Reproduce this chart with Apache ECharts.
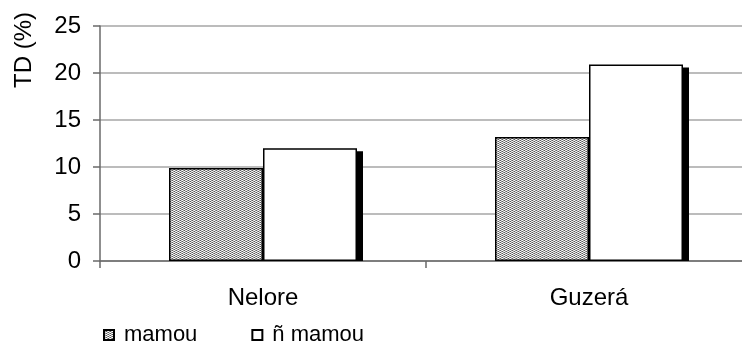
<!DOCTYPE html>
<html>
<head>
<meta charset="utf-8">
<script src="https://cdn.jsdelivr.net/npm/echarts@6/dist/echarts.min.js"></script>
<style>
  html, body { margin: 0; padding: 0; background: #fff; }
  #chart { width: 742px; height: 343px; }
</style>
</head>
<body>
<div id="chart"></div>
<script>
// Breeds on the category axis
const categories = ['Nelore', 'Guzerá'];
// TD (%) per breed, calves that suckled vs. did not suckle
const mamouValues = [9.9, 13.2];
const naoMamouValues = [12.0, 20.9];
const seriesNames = ['mamou', 'ñ mamou'];
// Value axis ticks
const yTicks = [0, 5, 10, 15, 20, 25];

// Bar geometry and drop shadow offsets (pixels)
const BAR_W = 94;
const SHADOW_DX = 6;
const SHADOW_DY = 3;

// Small stippled grey tile used as the fill for the "mamou" bars
function makeStipple() {
  const c = document.createElement('canvas');
  c.width = 4; c.height = 4;
  const ctx = c.getContext('2d');
  const px = [
    ['#5a5a5a', '#d8d8d8', '#ffffff', '#9a9a9a'],
    ['#ffffff', '#9a9a9a', '#5a5a5a', '#d8d8d8'],
    ['#5a5a5a', '#d8d8d8', '#ffffff', '#9a9a9a'],
    ['#ffffff', '#9a9a9a', '#5a5a5a', '#d8d8d8']
  ];
  for (let y = 0; y < 4; y++) {
    for (let x = 0; x < 4; x++) {
      ctx.fillStyle = px[y][x];
      ctx.fillRect(x, y, 1, 1);
    }
  }
  return c;
}
const stipple = { image: makeStipple(), repeat: 'repeat' };

const font = '"Liberation Sans", Arial, sans-serif';
const chart = echarts.init(document.getElementById('chart'), null, { renderer: 'canvas' });

chart.setOption({
  animation: false,
  backgroundColor: '#ffffff',
  grid: {
    left: 100, width: 652, top: 26, bottom: 82,
    containLabel: false,
    outerBoundsMode: 'none'
  },
  legend: {
    left: 103,
    top: 324,
    padding: 0,
    itemWidth: 10,
    itemHeight: 10,
    itemGap: 54,
    icon: 'rect',
    textStyle: {
      fontFamily: font, fontSize: 22, color: '#000',
      width: 82, padding: [0, 0, 0, 5]
    },
    data: seriesNames
  },
  graphic: [{
    type: 'text',
    x: 24,
    y: 50,
    rotation: Math.PI / 2,
    style: {
      text: 'TD (%)',
      font: '24px ' + font,
      fill: '#000',
      textAlign: 'center',
      textVerticalAlign: 'middle'
    }
  }],
  xAxis: {
    type: 'category',
    data: categories,
    axisLine: { lineStyle: { color: '#6a6a6a', width: 1.5 } },
    axisTick: { show: true, alignWithLabel: false, length: 7, lineStyle: { color: '#6a6a6a', width: 1.5 } },
    axisLabel: { fontFamily: font, fontSize: 24, color: '#000', margin: 25 }
  },
  yAxis: {
    type: 'value',
    min: yTicks[0],
    max: yTicks[yTicks.length - 1],
    interval: yTicks[1] - yTicks[0],
    axisLine: { show: true, lineStyle: { color: '#6a6a6a', width: 1.5 } },
    axisTick: { show: true, length: 7, lineStyle: { color: '#6a6a6a', width: 1.5 } },
    axisLabel: { fontFamily: font, fontSize: 24, color: '#000', margin: 19 },
    splitLine: { lineStyle: { color: '#a6a6a6', width: 1.5 } }
  },
  series: [
    {
      name: seriesNames[0],
      type: 'bar',
      data: mamouValues,
      barWidth: BAR_W,
      barGap: '0%',
      itemStyle: { color: stipple, borderColor: '#000', borderWidth: 1.5 }
    },
    {
      name: seriesNames[1],
      type: 'bar',
      data: naoMamouValues,
      barWidth: BAR_W,
      barGap: '0%',
      itemStyle: { color: '#ffffff', borderColor: '#000', borderWidth: 1.5 }
    },
    {
      // Solid drop shadow behind the "ñ mamou" bars
      name: 'sombra',
      type: 'custom',
      z: 1,
      silent: true,
      data: naoMamouValues.map((v, i) => [i, v]),
      renderItem: function (params, api) {
        const top = api.coord([api.value(0), api.value(1)]);
        const base = api.coord([api.value(0), 0]);
        return {
          type: 'rect',
          shape: {
            x: top[0] + SHADOW_DX,
            y: top[1] + SHADOW_DY,
            width: BAR_W,
            height: base[1] - top[1] - SHADOW_DY
          },
          style: { fill: '#000' }
        };
      }
    }
  ]
});
</script>
</body>
</html>
